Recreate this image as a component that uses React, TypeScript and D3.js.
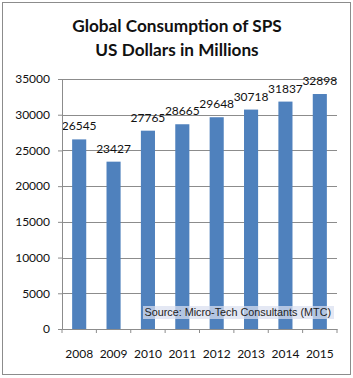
import { useEffect, useRef } from 'react';
import * as d3 from 'd3';

const years = ['2008', '2009', '2010', '2011', '2012', '2013', '2014', '2015'];
const consumption = [26545, 23427, 27765, 28665, 29648, 30718, 31837, 32898];
const yTicks = [0, 5000, 10000, 15000, 20000, 25000, 30000, 35000];
const titleLines = ['Global Consumption of SPS', 'US Dollars in Millions'];
const sourceNote = 'Source: Micro-Tech Consultants (MTC)';

const width = 353;
const height = 378;
const margin = { top: 79, right: 16, bottom: 49, left: 62 };

const App = () => {
  const svgRef = useRef<SVGSVGElement | null>(null);

  useEffect(() => {
    const svg = d3.select(svgRef.current);
    svg.selectAll('*').remove();

    const innerWidth = width - margin.left - margin.right;
    const innerHeight = height - margin.top - margin.bottom;
    const font = 'Lato, Calibri, sans-serif';

    // outer frame
    svg.append('rect')
      .attr('x', 2.5).attr('y', 2.5)
      .attr('width', 348).attr('height', 372)
      .attr('fill', 'white')
      .attr('stroke', '#8c8c8c');

    // title
    svg.append('text')
      .attr('text-anchor', 'middle')
      .attr('font-family', font)
      .attr('font-weight', 'bold')
      .attr('font-size', 17.2)
      .attr('fill', '#111')
      .selectAll('tspan')
      .data(titleLines)
      .enter()
      .append('tspan')
      .attr('x', 177)
      .attr('y', (d, i) => 32 + i * 24)
      .text(d => d);

    const x = d3.scaleBand()
      .domain(years)
      .range([0, innerWidth])
      .paddingInner(0.59)
      .paddingOuter(0.295);

    const y = d3.scaleLinear()
      .domain([0, 35000])
      .range([innerHeight, 0]);

    const g = svg.append('g')
      .attr('transform', `translate(${margin.left},${margin.top})`);

    // gridlines
    g.selectAll('.grid')
      .data(yTicks.filter(t => t > 0))
      .enter()
      .append('line')
      .attr('x1', 0)
      .attr('x2', innerWidth)
      .attr('y1', d => Math.round(y(d)) + 0.5)
      .attr('y2', d => Math.round(y(d)) + 0.5)
      .attr('stroke', '#8c8c8c');

    // bars
    g.selectAll('.bar')
      .data(consumption)
      .enter()
      .append('rect')
      .attr('x', (d, i) => x(years[i]))
      .attr('y', d => y(d))
      .attr('width', x.bandwidth())
      .attr('height', d => innerHeight - y(d))
      .attr('fill', '#4f81bd');

    // value labels
    g.selectAll('.val')
      .data(consumption)
      .enter()
      .append('text')
      .attr('x', (d, i) => x(years[i]) + x.bandwidth() / 2)
      .attr('y', d => y(d) - 9)
      .attr('text-anchor', 'middle')
      .attr('font-family', font)
      .attr('font-size', 12)
      .attr('fill', '#111')
      .text(d => d);

    // y axis
    const yAxis = g.append('g')
      .call(d3.axisLeft(y).tickValues(yTicks).tickSize(4).tickPadding(8).tickFormat(d3.format('d')));
    yAxis.select('.domain').attr('stroke', '#8c8c8c');
    yAxis.selectAll('line').attr('stroke', '#8c8c8c');
    yAxis.selectAll('text')
      .attr('font-family', font)
      .attr('font-size', 12)
      .attr('fill', '#111');

    // x axis
    const xAxis = g.append('g')
      .attr('transform', `translate(0,${innerHeight})`)
      .call(d3.axisBottom(x).tickSize(0).tickPadding(20));
    xAxis.select('.domain').attr('stroke', '#8c8c8c');
    xAxis.selectAll('text')
      .attr('font-family', font)
      .attr('font-size', 12)
      .attr('fill', '#111');

    // x tick marks between categories
    const step = x.step();
    g.selectAll('.xtick')
      .data(d3.range(years.length + 1))
      .enter()
      .append('line')
      .attr('x1', i => i * step)
      .attr('x2', i => i * step)
      .attr('y1', innerHeight)
      .attr('y2', innerHeight + 4)
      .attr('stroke', '#8c8c8c');

    // source note
    const note = g.append('g').attr('transform', `translate(${innerWidth - 194},${innerHeight - 23})`);
    note.append('rect')
      .attr('width', 191)
      .attr('height', 13)
      .attr('fill', '#d9dff0')
      .attr('opacity', 0.72);
    note.append('text')
      .attr('x', 1.5)
      .attr('y', 10)
      .attr('font-family', 'Liberation Sans, Arial, sans-serif')
      .attr('font-size', 10.8)
      .attr('fill', '#222')
      .text(sourceNote);
  }, []);

  return (
    <svg
      ref={svgRef}
      width={width}
      height={height}
      style={{ position: 'absolute', left: 0, top: 0 }}
    />
  );
};

export default App;
